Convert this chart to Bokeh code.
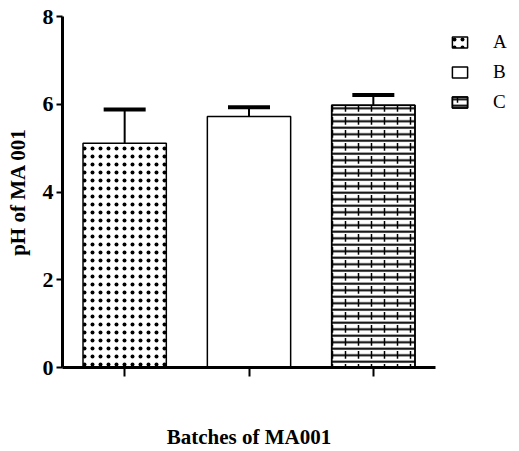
from bokeh.plotting import figure
from bokeh.models import ColumnDataSource, Whisker, TeeHead, Legend, LegendItem, FixedTicker, Range1d
from bokeh.embed import file_html
from bokeh.resources import INLINE

batches = ["A", "B", "C"]
positions = [1, 2, 3]
ph_means = [5.11, 5.72, 5.98]
ph_errors = [0.77, 0.21, 0.23]
y_ticks = [0, 2, 4, 6, 8]

upper = [m + e for m, e in zip(ph_means, ph_errors)]
src = ColumnDataSource(dict(x=positions, top=ph_means, upper=upper, name=batches))

p = figure(width=519, height=451, output_backend="svg", toolbar_location=None,
           x_range=Range1d(0.5, 3.5), y_range=Range1d(0, 8),
           min_border_left=62, min_border_top=16, min_border_bottom=84, min_border_right=84)
p.frame_width = 373
p.frame_height = 351
p.grid.visible = False
p.outline_line_color = None
p.background_fill_color = "white"

rA = p.vbar(x=[positions[0]], top=[ph_means[0]], width=0.67, fill_color="white",
            line_color="black", line_width=1.5, hatch_pattern="dot", hatch_color="black",
            hatch_scale=8, hatch_weight=1.5)
rB = p.vbar(x=[positions[1]], top=[ph_means[1]], width=0.67, fill_color="white",
            line_color="black", line_width=1.5)
rC1 = p.vbar(x=[positions[2]], top=[ph_means[2]], width=0.67, fill_color="white",
             line_color="black", line_width=1.5, hatch_pattern="horizontal_line",
             hatch_color="black", hatch_scale=6.5, hatch_weight=2)
rC2 = p.vbar(x=[positions[2]], top=[ph_means[2]], width=0.67, fill_alpha=0,
             line_color="black", line_width=1.5, hatch_pattern="vertical_dash",
             hatch_color="black", hatch_scale=13, hatch_weight=1.5)

w = Whisker(source=src, base="x", lower="top", upper="upper", dimension="height",
            line_color="black", line_width=2,
            upper_head=TeeHead(size=42, line_width=4, line_color="black"), lower_head=None)
p.add_layout(w)

for ax in (p.xaxis, p.yaxis):
    ax.axis_line_color = "black"
    ax.axis_line_width = 3
    ax.major_tick_line_color = "black"
    ax.major_tick_line_width = 2
    ax.major_tick_in = 0
    ax.minor_tick_line_color = None
    ax.major_label_text_color = "black"
    ax.axis_label_text_color = "black"
    ax.axis_label_text_font = "Liberation Serif"
    ax.axis_label_text_font_style = "bold"
    ax.axis_label_text_font_size = "21px"

p.yaxis.ticker = FixedTicker(ticks=y_ticks)
p.yaxis.major_tick_out = 6
p.yaxis.major_label_text_font = "Liberation Sans Narrow"
p.yaxis.major_label_text_font_style = "bold"
p.yaxis.major_label_text_font_size = "22px"
p.yaxis.major_label_standoff = 3
p.yaxis.axis_label = "pH of MA 001"
p.yaxis.axis_label_standoff = 10

p.xaxis.ticker = FixedTicker(ticks=positions)
p.xaxis.major_label_overrides = {1: " ", 2: " ", 3: " "}
p.xaxis.major_label_text_font_size = "12px"
p.xaxis.major_tick_out = 9
p.xaxis.axis_label = "Batches of MA001"
p.xaxis.axis_label_standoff = 26

legend = Legend(items=[LegendItem(label="A", renderers=[rA]),
                       LegendItem(label="B", renderers=[rB]),
                       LegendItem(label="C", renderers=[rC1, rC2])],
                location="top_left", border_line_color=None, background_fill_alpha=0,
                glyph_width=19, glyph_height=14, label_text_font="Liberation Serif",
                label_text_font_size="19px", label_text_color="black",
                label_standoff=24, spacing=8,
                margin=15, padding=10, label_height=14)
p.add_layout(legend, "right")

open("out.html", "w").write(file_html(p, INLINE))
